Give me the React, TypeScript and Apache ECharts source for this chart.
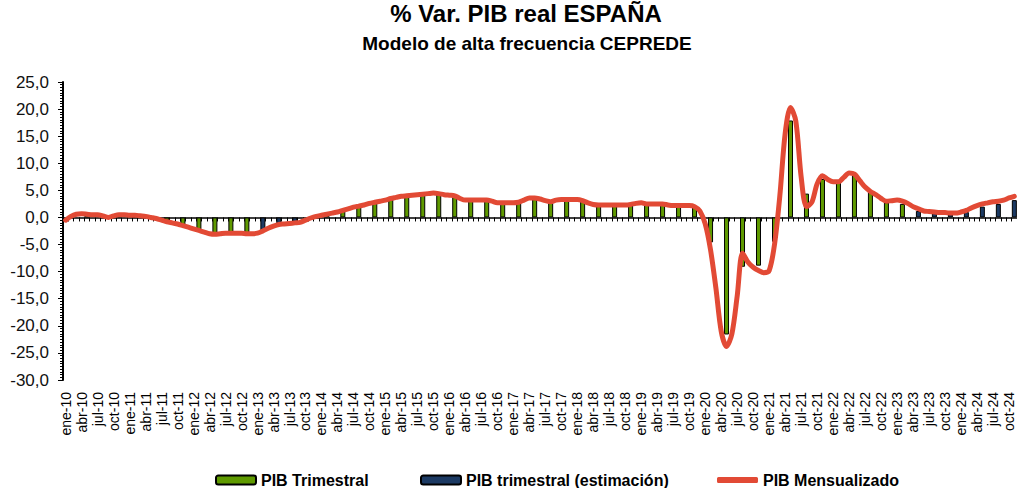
import React, { useEffect, useRef } from 'react';
import * as echarts from 'echarts';

// ---- Tick labels / categories ----
const monthNames = ['ene', 'feb', 'mar', 'abr', 'may', 'jun', 'jul', 'ago', 'sep', 'oct', 'nov', 'dic'];
const years = ['10', '11', '12', '13', '14', '15', '16', '17', '18', '19', '20', '21', '22', '23', '24'];
const lastYearMonths = 11; // data to nov-24 (image is cut at oct-24)

// ---- PIB Mensualizado (monthly, % y/y) ----
const line2010 = [-0.5, 0.2, 0.6, 0.7, 0.6, 0.5, 0.5, 0.3, 0.0, 0.3, 0.5, 0.5];
const line2011 = [0.4, 0.4, 0.3, 0.2, 0.0, -0.2, -0.5, -0.8, -1.0, -1.2, -1.5, -1.8];
const line2012 = [-2.1, -2.4, -2.7, -3.0, -3.1, -3.0, -2.9, -2.9, -2.9, -2.9, -3.0, -3.0];
const line2013 = [-2.9, -2.5, -2.0, -1.6, -1.3, -1.2, -1.1, -1.0, -0.9, -0.5, -0.1, 0.2];
const line2014 = [0.4, 0.6, 0.8, 1.0, 1.3, 1.6, 1.9, 2.1, 2.3, 2.6, 2.8, 3.0];
const line2015 = [3.2, 3.5, 3.7, 3.9, 4.0, 4.1, 4.2, 4.3, 4.4, 4.5, 4.4, 4.2];
const line2016 = [4.1, 4.0, 3.5, 3.2, 3.2, 3.2, 3.2, 3.2, 3.0, 2.7, 2.7, 2.7];
const line2017 = [2.7, 2.8, 3.2, 3.6, 3.6, 3.4, 3.1, 2.9, 3.2, 3.3, 3.3, 3.3];
const line2018 = [3.3, 3.1, 2.7, 2.4, 2.3, 2.3, 2.3, 2.3, 2.3, 2.3, 2.4, 2.6];
const line2019 = [2.7, 2.5, 2.5, 2.5, 2.5, 2.3, 2.2, 2.2, 2.2, 2.2, 2.0, 1.2];
const line2020 = [-1.2, -6.0, -13.0, -21.0, -23.8, -21.5, -14.5, -6.6, -8.2, -9.2, -9.8, -10.2];
const line2021 = [-9.8, -5.0, 4.0, 15.5, 20.3, 17.8, 7.5, 2.0, 2.8, 6.2, 7.7, 7.0];
const line2022 = [6.6, 6.6, 7.4, 8.2, 8.0, 6.8, 5.6, 4.8, 4.2, 3.5, 3.0, 3.1];
const line2023 = [3.2, 3.0, 2.6, 2.0, 1.6, 1.2, 1.1, 1.0, 0.9, 0.9, 0.8, 0.8];
const line2024 = [1.0, 1.3, 1.8, 2.2, 2.5, 2.7, 2.9, 3.0, 3.2, 3.6, 3.9];

// ---- PIB Trimestral (quarterly, % y/y), 2010T1 .. 2024T4 ----
const pibTrimestral = [
  0.2, 0.5, 0.3, 0.3,
  0.3, 0.1, -0.6, -1.4,
  -2.2, -3.0, -2.9, -2.9,
  -2.6, -1.3, -1.0, -0.1,
  0.6, 1.3, 2.1, 2.7,
  3.5, 4.0, 4.3, 4.4,
  3.8, 3.2, 3.1, 2.7,
  2.8, 3.4, 3.0, 3.3,
  3.2, 2.4, 2.4, 2.4,
  2.5, 2.4, 2.2, 2.0,
  -4.6, -21.6, -9.1, -8.9,
  -4.5, 17.9, 4.4, 7.1,
  6.6, 7.8, 4.8, 2.8,
  2.5, 1.2, 0.8, 0.6,
  1.0, 2.0, 2.5, 3.2,
];
// quarters shown as "estimación"
const estimacionQuarters = [12, 13, 14, 53, 54, 55, 56, 57, 58, 59];

// ---- derived structures ----
const categories: string[] = [];
years.forEach((y, yi) => {
  const n = yi === years.length - 1 ? lastYearMonths : 12;
  for (let m = 0; m < n; m++) categories.push(`${monthNames[m]}-${y}`);
});
const lineData = [
  ...line2010, ...line2011, ...line2012, ...line2013, ...line2014,
  ...line2015, ...line2016, ...line2017, ...line2018, ...line2019,
  ...line2020, ...line2021, ...line2022, ...line2023, ...line2024,
];
const barReal: (number | null)[] = categories.map(() => null);
const barEst: (number | null)[] = categories.map(() => null);
pibTrimestral.forEach((v, q) => {
  const idx = q * 3 + 1;
  if (idx >= categories.length) return;
  if (estimacionQuarters.includes(q)) barEst[idx] = v;
  else barReal[idx] = v;
});

const FONT = '"Liberation Sans", Arial, sans-serif';
const GREEN = '#5F9A00';
const NAVY = '#1C3A63';
const RED = '#E24A35';

export default function App() {
  const ref = useRef<HTMLDivElement>(null);
  useEffect(() => {
    document.body.style.margin = '0';
    const chart = echarts.init(ref.current!, null, { renderer: 'svg' });
    const legendText = { fontFamily: FONT, fontSize: 16, fontWeight: 'bold', color: '#000' };
    chart.setOption({
      animation: false,
      backgroundColor: '#fff',
      graphic: [
        {
          type: 'text', x: 526, y: 13,
          style: { text: '% Var. PIB real ESPAÑA', fontFamily: FONT, fontSize: 24, fontWeight: 'bold', fill: '#000', align: 'center', verticalAlign: 'middle' },
        },
        {
          type: 'text', x: 527, y: 43,
          style: { text: 'Modelo de alta frecuencia CEPREDE', fontFamily: FONT, fontSize: 19, fontWeight: 'bold', fill: '#000', align: 'center', verticalAlign: 'middle' },
        },
      ],
      legend: [
        { data: ['PIB Trimestral'], left: 210, top: 467, itemWidth: 40, itemHeight: 9, selectedMode: false, textStyle: legendText },
        { data: ['PIB trimestral (estimación)'], left: 415, top: 467, itemWidth: 40, itemHeight: 9, selectedMode: false, textStyle: legendText },
        { data: [{ name: 'PIB Mensualizado', icon: 'roundRect' }], left: 712, top: 467, itemWidth: 41, itemHeight: 6, selectedMode: false, textStyle: legendText },
      ],
      grid: { left: 63, top: 82, width: 959, height: 298 },
      xAxis: [
        {
          type: 'category', data: categories, position: 'bottom',
          axisLine: { onZero: true, lineStyle: { color: '#000', width: 1.5 } },
          axisTick: { show: true, interval: 0, length: 4, lineStyle: { color: '#000' } },
          axisLabel: { show: false },
          splitLine: { show: false },
        },
        {
          type: 'category', data: categories, position: 'bottom',
          axisLine: { show: false, onZero: false },
          axisTick: { show: false },
          axisLabel: { show: true, interval: 2, rotate: 90, fontSize: 14, fontFamily: FONT, color: '#000', margin: 12 },
          splitLine: { show: false },
        },
      ],
      yAxis: {
        type: 'value', min: -30, max: 25, interval: 5,
        axisLine: { show: true, lineStyle: { color: '#000', width: 2 } },
        axisTick: { show: true, length: 5, lineStyle: { color: '#000' } },
        minorTick: { show: true, splitNumber: 10, length: 3, lineStyle: { color: '#000' } },
        splitLine: { show: false },
        axisLabel: {
          fontSize: 17, fontFamily: FONT, color: '#111', margin: 14,
          formatter: (v: number) => v.toFixed(1).replace('.', ','),
        },
      },
      series: [
        {
          name: 'PIB Trimestral', type: 'bar', data: barReal, barWidth: 5, barGap: '-100%',
          itemStyle: { color: GREEN, borderColor: '#000', borderWidth: 1 },
        },
        {
          name: 'PIB trimestral (estimación)', type: 'bar', data: barEst, barWidth: 5, barGap: '-100%',
          itemStyle: { color: NAVY, borderColor: '#000', borderWidth: 1 },
        },
        {
          name: 'PIB Mensualizado', type: 'line', data: lineData, smooth: 0.3,
          showSymbol: false, symbol: 'none', z: 5,
          itemStyle: { color: RED },
          lineStyle: { color: RED, width: 5, cap: 'round', join: 'round' },
        },
      ],
    });
    return () => chart.dispose();
  }, []);
  return <div ref={ref} style={{ width: 1017, height: 488 }} />;
}
